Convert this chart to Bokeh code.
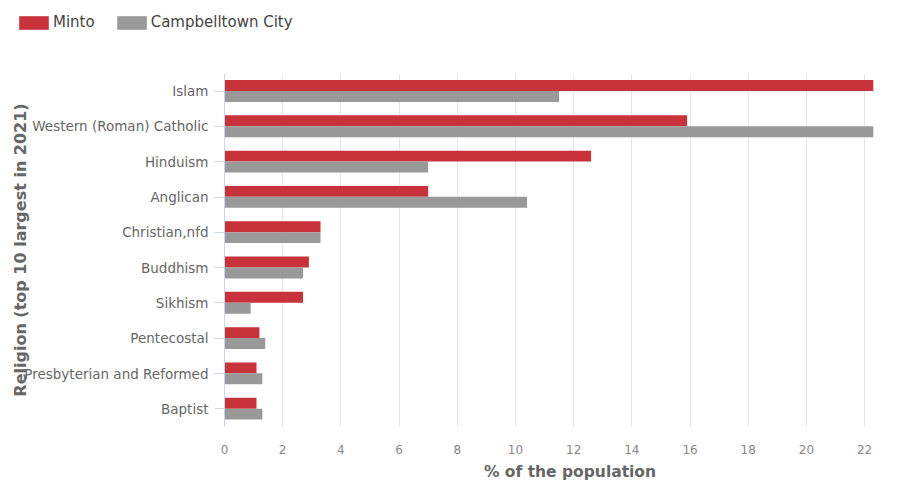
from bokeh.plotting import figure
from bokeh.layouts import column
from bokeh.models import ColumnDataSource, FactorRange, Range1d, Legend, LegendItem, FixedTicker
from bokeh.transform import dodge
from bokeh.embed import file_html
from bokeh.resources import INLINE

religions = ["Islam", "Western (Roman) Catholic", "Hinduism", "Anglican", "Christian,nfd",
             "Buddhism", "Sikhism", "Pentecostal", "Presbyterian and Reformed", "Baptist"]
minto = [22.3, 15.9, 12.6, 7.0, 3.3, 2.9, 2.7, 1.2, 1.1, 1.1]
campbelltown = [11.5, 22.3, 7.0, 10.4, 3.3, 2.7, 0.9, 1.4, 1.3, 1.3]
x_ticks = [0, 2, 4, 6, 8, 10, 12, 14, 16, 18, 20, 22, 24]
series_names = ["Minto", "Campbelltown City"]

RED = "#c8323a"
GRAY = "#999999"
FONT = "DejaVu Sans"

src = ColumnDataSource(dict(cat=religions, minto=minto, camp=campbelltown))

# ---- legend strip ----
leg_fig = figure(width=915, height=40, output_backend="svg", toolbar_location=None,
                 x_range=Range1d(0, 1), y_range=Range1d(0, 1),
                 min_border=0, min_border_left=0, min_border_right=0,
                 min_border_top=0, min_border_bottom=0)
leg_fig.frame_align = False
leg_fig.axis.visible = False
leg_fig.grid.visible = False
leg_fig.outline_line_color = None
# swatch renderers placed far outside the visible ranges; only their legend glyphs show
lr1 = leg_fig.hbar(y=[10], left=[5], right=[6], height=0.1, fill_color=RED, line_color=None)
lr2 = leg_fig.hbar(y=[10], left=[5], right=[6], height=0.1, fill_color=GRAY, line_color=None)
legend = Legend(items=[LegendItem(label=series_names[0], renderers=[lr1]),
                       LegendItem(label=series_names[1], renderers=[lr2])],
                orientation="horizontal", location=(15, 9),
                glyph_width=37, glyph_height=17, padding=0, margin=0, spacing=18,
                label_text_font=FONT, label_text_font_size="15px", label_text_color="#444444",
                label_standoff=1, background_fill_alpha=0, border_line_color=None)
leg_fig.add_layout(legend)

# ---- main chart ----
p = figure(width=915, height=443, output_backend="svg", toolbar_location=None,
           y_range=FactorRange(factors=list(reversed(religions)), range_padding=0),
           x_range=Range1d(0, 23.75),
           min_border_left=224, min_border_right=0, min_border_top=33, min_border_bottom=52)
p.frame_align = False
p.outline_line_color = None
p.background_fill_color = "white"

p.hbar(y=dodge("cat", 0.16, range=p.y_range), right="minto", left=0, height=0.31,
       source=src, fill_color=RED, line_color=None)
p.hbar(y=dodge("cat", -0.15, range=p.y_range), right="camp", left=0, height=0.31,
       source=src, fill_color=GRAY, line_color=None)

xa = p.xaxis[0]
xa.ticker = FixedTicker(ticks=x_ticks)
xa.axis_line_color = None
xa.major_tick_line_color = None
xa.minor_tick_line_color = None
xa.major_label_standoff = 12
xa.major_label_text_font = FONT
xa.major_label_text_font_size = "12px"
xa.major_label_text_color = "#888888"
xa.axis_label = "% of the population"
xa.axis_label_text_font = FONT
xa.axis_label_text_font_style = "bold"
xa.axis_label_text_font_size = "15.5px"
xa.axis_label_text_color = "#666666"
xa.axis_label_standoff = 6

ya = p.yaxis[0]
ya.axis_line_color = "#ccd6eb"
ya.major_tick_line_color = "#ccd6eb"
ya.major_tick_out = 10
ya.major_tick_in = 0
ya.minor_tick_line_color = None
ya.major_label_standoff = 6
ya.major_label_text_font = FONT
ya.major_label_text_font_size = "13.5px"
ya.major_label_text_color = "#666666"
ya.axis_label = "Religion (top 10 largest in 2021)"
ya.axis_label_text_font = FONT
ya.axis_label_text_font_style = "bold"
ya.axis_label_text_font_size = "16px"
ya.axis_label_text_color = "#666666"
ya.axis_label_standoff = -9

p.xgrid.grid_line_color = "#e6e6e6"
p.ygrid.grid_line_color = None

layout = column(leg_fig, p, spacing=0)
open("out.html", "w").write(file_html(layout, INLINE))
